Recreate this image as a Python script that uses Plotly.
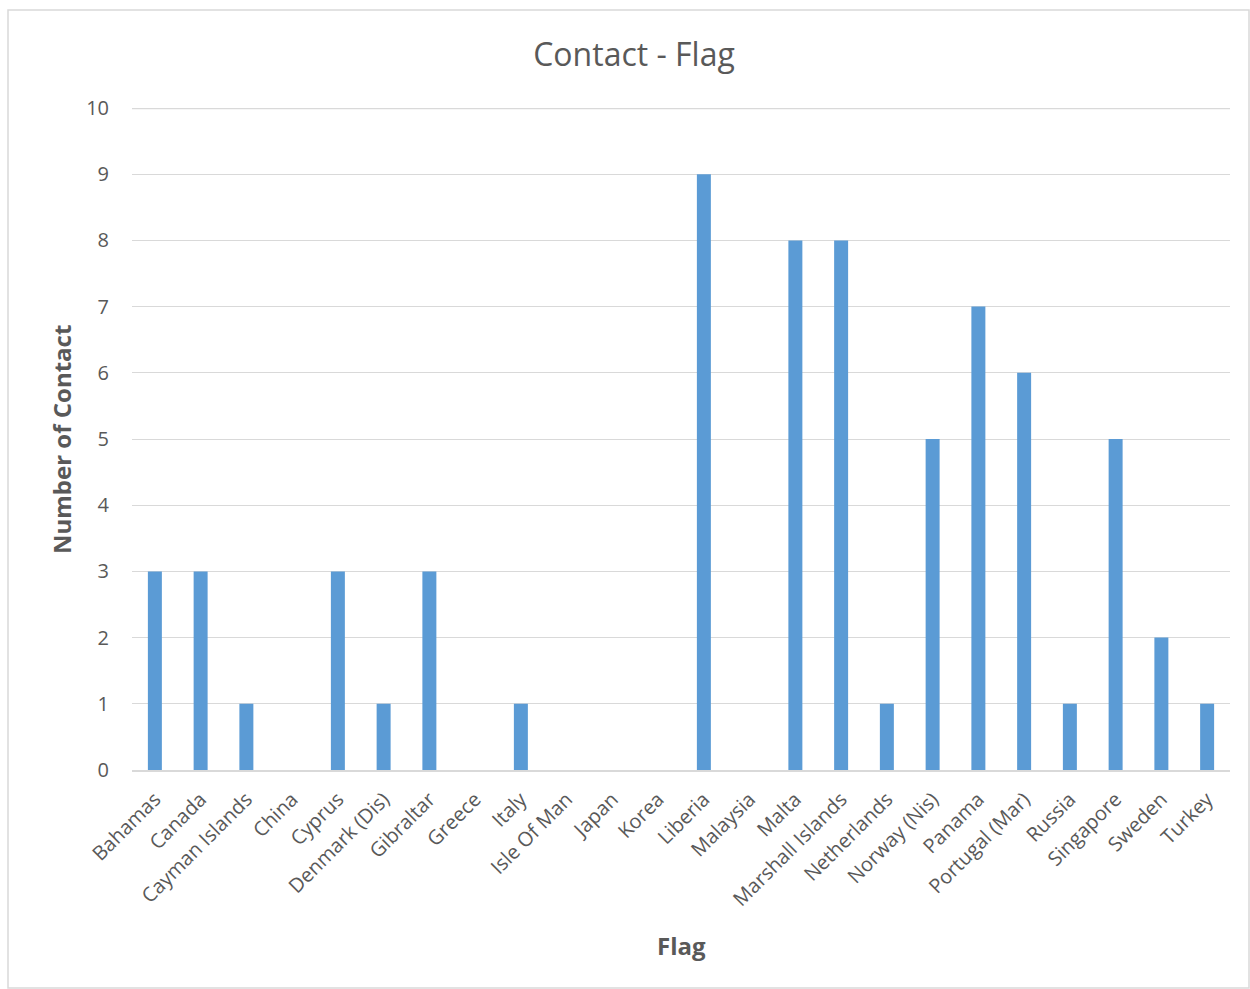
import plotly.graph_objects as go

categories = ["Bahamas", "Canada", "Cayman Islands", "China", "Cyprus", "Denmark (Dis)",
              "Gibraltar", "Greece", "Italy", "Isle Of Man", "Japan", "Korea", "Liberia",
              "Malaysia", "Malta", "Marshall Islands", "Netherlands", "Norway (Nis)",
              "Panama", "Portugal (Mar)", "Russia", "Singapore", "Sweden", "Turkey"]
contacts = [3, 3, 1, 0, 3, 1, 3, 0, 1, 0, 0, 0, 9, 0, 8, 8, 1, 5, 7, 6, 1, 5, 2, 1]
y_ticks = list(range(0, 11))

FONT = "Open Sans"
GRAY = "#595959"
GRID = "#D9D9D9"

fig = go.Figure(go.Bar(
    x=categories, y=contacts,
    marker=dict(color="#5B9BD5", line=dict(width=0)),
))

fig.update_layout(
    width=1250, height=989,
    margin=dict(l=132, r=20, t=108, b=219),
    paper_bgcolor="white", plot_bgcolor="white",
    bargap=0.694,
    showlegend=False,
    font=dict(family=FONT, color=GRAY),
    title=dict(text="Contact - Flag", x=634/1250, xanchor="center", y=1-55/989, yanchor="middle",
               font=dict(family=FONT, size=32, color=GRAY)),
    xaxis=dict(tickangle=-45, tickfont=dict(size=20, color=GRAY), showgrid=False,
               showline=True, linecolor=GRID, linewidth=1.5, ticks="", ticklen=0,
               ticklabelstandoff=8),
    yaxis=dict(range=[0, y_ticks[-1]], tickvals=y_ticks, tickfont=dict(size=20, color=GRAY),
               showgrid=True, gridcolor=GRID, gridwidth=1.2, zeroline=False,
               ticks="", ticklabelstandoff=22),
    annotations=[
        dict(text="<b>Number of Contact</b>", xref="paper", yref="paper",
             x=(61-132)/1098, y=(770-440)/662, textangle=-90, showarrow=False,
             xanchor="center", yanchor="middle", font=dict(family=FONT, size=24, color=GRAY)),
        dict(text="<b>Flag</b>", xref="paper", yref="paper",
             x=(681-132)/1098, y=(770-945)/662, showarrow=False,
             xanchor="center", yanchor="middle", font=dict(family=FONT, size=24, color=GRAY)),
    ],
    shapes=[
        dict(type="rect", xref="paper", yref="paper",
             x0=(8-132)/1098, x1=(1249-132)/1098, y0=(770-988)/662, y1=(770-10)/662,
             line=dict(color=GRID, width=1.5), fillcolor="rgba(0,0,0,0)", layer="below"),
        dict(type="line", xref="paper", yref="y", x0=0, x1=1, y0=y_ticks[-1], y1=y_ticks[-1],
             line=dict(color=GRID, width=2.4), layer="below"),
    ],
)

fig.write_html("out.html")
